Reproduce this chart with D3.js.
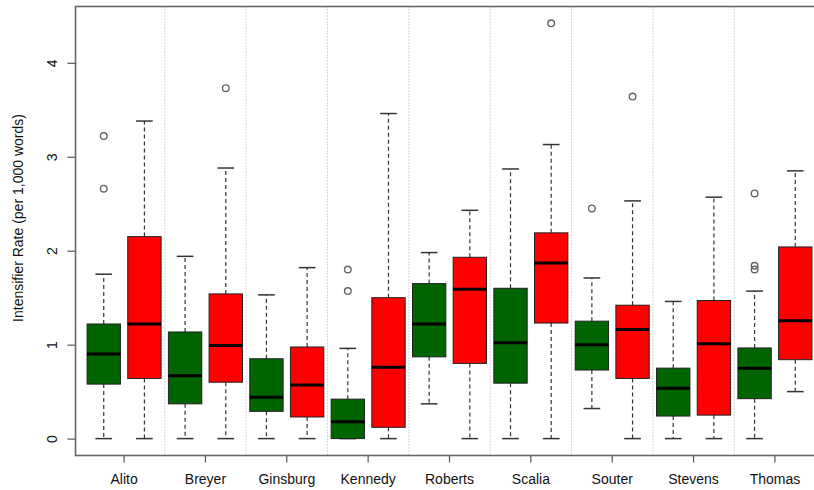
<!DOCTYPE html>
<html>
<head>
<meta charset="utf-8">
<script src="https://cdn.jsdelivr.net/npm/d3@7"></script>
<style>
    body { margin: 0; background: #fff; }
    text { font-family: "Liberation Sans", Arial, sans-serif; fill: #111; }
</style>
</head>
<body>
<div class="canvas"></div>
<script>
const justices = ['Alito', 'Breyer', 'Ginsburg', 'Kennedy', 'Roberts', 'Scalia', 'Souter', 'Stevens', 'Thomas'];
const yTicks = [0, 1, 2, 3, 4];
const yTitle = 'Intensifier Rate (per 1,000 words)';

// green boxes: whisker low, q1, median, q3, whisker high, outliers
const greenLow = [0, 0, 0, 0, 0.37, 0, 0.32, 0, 0];
const greenQ1 = [0.58, 0.37, 0.29, 0.0, 0.87, 0.59, 0.73, 0.24, 0.425];
const greenMedian = [0.90, 0.67, 0.44, 0.18, 1.22, 1.02, 1.00, 0.535, 0.75];
const greenQ3 = [1.22, 1.135, 0.85, 0.42, 1.65, 1.60, 1.25, 0.75, 0.965];
const greenHigh = [1.75, 1.94, 1.53, 0.96, 1.98, 2.87, 1.71, 1.46, 1.57];
const greenOutliers = [[3.22, 2.66], [], [], [1.80, 1.57], [], [], [2.45], [], [2.61, 1.84, 1.80]];

// red boxes
const redLow = [0, 0, 0, 0, 0, 0, 0, 0, 0.50];
const redQ1 = [0.64, 0.60, 0.23, 0.12, 0.80, 1.23, 0.64, 0.25, 0.84];
const redMedian = [1.22, 0.99, 0.57, 0.76, 1.59, 1.87, 1.16, 1.01, 1.255];
const redQ3 = [2.15, 1.54, 0.975, 1.50, 1.93, 2.19, 1.42, 1.47, 2.04];
const redHigh = [3.38, 2.88, 1.82, 3.46, 2.43, 3.13, 2.53, 2.57, 2.85];
const redOutliers = [[], [3.73], [], [], [], [4.42], [3.64], [], []];

const dims = { width: 814, height: 490, left: 75.5, top: 6.5, right: 840, bottom: 455.5, boxFrac: 0.82 };

const svg = d3.select('.canvas')
    .append('svg')
    .attr('width', dims.width)
    .attr('height', dims.height);

const x = d3.scaleBand()
    .domain(justices)
    .range([83.4, 815.6]);

const y = d3.scaleLinear()
    .domain([0, 4])
    .range([438.6, 62.8]);

const half = x.bandwidth() / 2;
const boxW = half * dims.boxFrac;

const makeBoxes = (low, q1, med, q3, high, outs, colour, offset) => justices.map((name, i) => ({
    name, low: low[i], q1: q1[i], med: med[i], q3: q3[i], high: high[i], outs: outs[i], colour,
    cx: x(name) + offset
}));

const boxes = [
    ...makeBoxes(greenLow, greenQ1, greenMedian, greenQ3, greenHigh, greenOutliers, '#006400', half / 2),
    ...makeBoxes(redLow, redQ1, redMedian, redQ3, redHigh, redOutliers, '#ff0000', half * 1.5)
];

// dotted separators between justices
svg.append('g')
    .selectAll('line')
    .data(justices.slice(1))
    .enter()
    .append('line')
        .attr('x1', d => x(d))
        .attr('x2', d => x(d))
        .attr('y1', dims.top)
        .attr('y2', dims.bottom)
        .attr('stroke', '#b0b0b0')
        .attr('stroke-width', 1)
        .attr('stroke-dasharray', '1,2');

const g = svg.append('g');

const boxG = g.selectAll('.box')
    .data(boxes)
    .enter()
    .append('g')
    .attr('class', 'box');

// whiskers
boxG.append('line')
    .attr('x1', d => d.cx).attr('x2', d => d.cx)
    .attr('y1', d => y(d.q3)).attr('y2', d => y(d.high))
    .attr('stroke', '#333').attr('stroke-width', 1.2).attr('stroke-dasharray', '4,3');

boxG.append('line')
    .attr('x1', d => d.cx).attr('x2', d => d.cx)
    .attr('y1', d => y(d.q1)).attr('y2', d => y(d.low))
    .attr('stroke', '#333').attr('stroke-width', 1.2).attr('stroke-dasharray', '4,3');

// caps
boxG.selectAll('.cap')
    .data(d => [d.low, d.high].map(v => ({ v, cx: d.cx })))
    .enter()
    .append('line')
        .attr('class', 'cap')
        .attr('x1', d => d.cx - boxW / 4).attr('x2', d => d.cx + boxW / 4)
        .attr('y1', d => y(d.v)).attr('y2', d => y(d.v))
        .attr('stroke', '#333').attr('stroke-width', 1.5);

// boxes
boxG.append('rect')
    .attr('x', d => d.cx - boxW / 2)
    .attr('width', boxW)
    .attr('y', d => y(d.q3))
    .attr('height', d => y(d.q1) - y(d.q3))
    .attr('fill', d => d.colour)
    .attr('stroke', '#222')
    .attr('stroke-width', 1);

// medians
boxG.append('line')
    .attr('x1', d => d.cx - boxW / 2).attr('x2', d => d.cx + boxW / 2)
    .attr('y1', d => y(d.med)).attr('y2', d => y(d.med))
    .attr('stroke', '#000').attr('stroke-width', 3);

// outliers
boxG.selectAll('circle')
    .data(d => d.outs.map(v => ({ v, cx: d.cx })))
    .enter()
    .append('circle')
        .attr('cx', d => d.cx)
        .attr('cy', d => y(d.v))
        .attr('r', 3.3)
        .attr('fill', 'none')
        .attr('stroke', '#666')
        .attr('stroke-width', 1.4);

// frame
svg.append('rect')
    .attr('x', dims.left)
    .attr('y', dims.top)
    .attr('width', dims.right - dims.left)
    .attr('height', dims.bottom - dims.top)
    .attr('fill', 'none')
    .attr('stroke', '#666')
    .attr('stroke-width', 1.6);

// y axis
const yAxis = svg.append('g')
    .attr('transform', `translate(${dims.left},0)`)
    .call(d3.axisLeft(y).tickValues(yTicks).tickSize(8).tickFormat(d3.format('d')));

yAxis.select('.domain').remove();
yAxis.selectAll('.tick line').attr('stroke', '#555').attr('stroke-width', 1.2);
yAxis.selectAll('.tick text')
    .attr('x', null).attr('dy', null)
    .attr('transform', 'translate(-24,0) rotate(-90)')
    .attr('text-anchor', 'middle')
    .attr('dominant-baseline', 'central')
    .style('font-size', '14px')
    .style('font-family', '"Liberation Sans", Arial, sans-serif');

// x axis
const xAxis = svg.append('g')
    .attr('transform', `translate(0,${dims.bottom})`)
    .call(d3.axisBottom(x).tickSize(7).tickPadding(12));

xAxis.select('.domain').remove();
xAxis.selectAll('.tick line').attr('stroke', '#555').attr('stroke-width', 1.2);
xAxis.selectAll('.tick text')
    .style('font-size', '14px')
    .style('font-family', '"Liberation Sans", Arial, sans-serif');

// y title
svg.append('text')
    .attr('transform', `translate(23,218) rotate(-90)`)
    .attr('text-anchor', 'middle')
    .style('font-size', '14px')
    .text(yTitle);
</script>
</body>
</html>
